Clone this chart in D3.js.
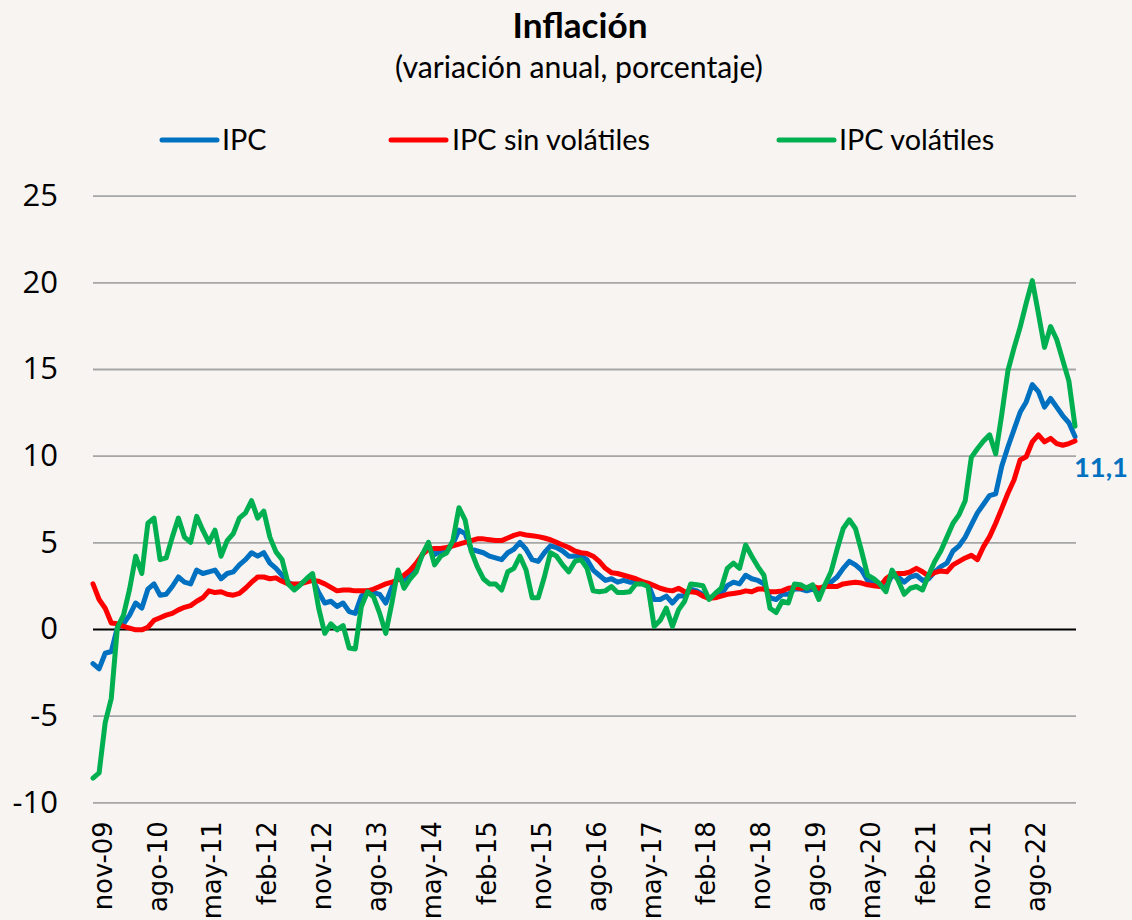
<!DOCTYPE html>
<html>
<head>
<meta charset="utf-8">
<script src="https://cdn.jsdelivr.net/npm/d3@7"></script>
<style>
  html, body { margin: 0; padding: 0; background: #f7f4f1; }
  svg { display: block; }
</style>
</head>
<body>
<svg id="chart" width="1132" height="920"></svg>
<script>
// ---------------- DATA ----------------
const monthAbbr = ["ene","feb","mar","abr","may","jun","jul","ago","sep","oct","nov","dic"];
const firstYear = 2009;
const firstMonthIndex = 9; // octubre 2009

const tickLabels = ["nov-09","ago-10","may-11","feb-12","nov-12","ago-13","may-14","feb-15","nov-15",
  "ago-16","may-17","feb-18","nov-18","ago-19","may-20","feb-21","nov-21","ago-22"];

const yTicks = [-10, -5, 0, 5, 10, 15, 20, 25];

const seriesNames = ["IPC", "IPC sin volátiles", "IPC volátiles"];

const ipc = [
  -2.0, -2.3, -1.4,
  -1.3, 0.1, 0.3, 0.8, 1.5, 1.2, 2.3, 2.6, 1.95, 2.0, 2.45, 3.0,
  2.7, 2.6, 3.4, 3.2, 3.3, 3.4, 2.9, 3.2, 3.3, 3.7, 4.0, 4.4,
  4.2, 4.4, 3.8, 3.5, 3.1, 2.7, 2.5, 2.6, 2.8, 2.9, 2.1, 1.5,
  1.6, 1.3, 1.5, 1.0, 0.9, 1.9, 2.2, 2.1, 2.0, 1.5, 2.4, 3.0,
  2.8, 3.2, 3.5, 4.3, 4.7, 4.3, 4.5, 4.5, 4.9, 5.7, 5.5, 4.6,
  4.5, 4.4, 4.2, 4.1, 4.0, 4.4, 4.6, 5.0, 4.6, 4.0, 3.9, 4.4,
  4.8, 4.7, 4.5, 4.2, 4.2, 4.2, 4.0, 3.4, 3.1, 2.8, 2.9, 2.7,
  2.8, 2.7, 2.7, 2.7, 2.6, 1.7, 1.7, 1.9, 1.5, 1.9, 1.9, 2.3,
  2.2, 2.0, 1.8, 1.9, 2.0, 2.5, 2.7, 2.6, 3.1, 2.9, 2.8, 2.6,
  1.8, 1.7, 2.0, 2.0, 2.3, 2.3, 2.2, 2.3, 2.1, 2.5, 2.7, 3.0,
  3.5, 3.9, 3.7, 3.4, 2.8, 2.6, 2.5, 2.4, 3.1, 3.0, 2.7, 3.0,
  3.1, 2.8, 2.9, 3.3, 3.6, 3.8, 4.5, 4.8, 5.3, 6.0, 6.7, 7.2,
  7.7, 7.8, 9.4, 10.5, 11.5, 12.5, 13.1, 14.1, 13.7, 12.8, 13.3, 12.8,
  12.3, 11.9, 11.1
];

const ipcSinVolatiles = [
  2.6, 1.7, 1.2, 0.35, 0.3, 0.15, 0.05, -0.05, -0.05, 0.1, 0.5, 0.65, 0.8, 0.9, 1.1,
  1.25, 1.35, 1.6, 1.8, 2.2, 2.1, 2.15, 2.0, 1.95, 2.05, 2.35, 2.7, 3.0, 3.0,
  2.9, 2.95, 2.75, 2.6, 2.6, 2.6, 2.7, 2.8, 2.75, 2.6, 2.4, 2.2, 2.25, 2.25, 2.2, 2.2, 2.2,
  2.3, 2.45, 2.6, 2.7, 2.85, 3.1, 3.4, 3.8, 4.3, 4.6, 4.65, 4.65, 4.7, 4.8, 4.9, 5.0, 5.1,
  5.2, 5.2, 5.15, 5.1, 5.1, 5.25, 5.4, 5.5, 5.42, 5.38, 5.33, 5.25, 5.15, 5.0, 4.85, 4.7,
  4.5, 4.4, 4.35, 4.2, 3.9, 3.5, 3.25, 3.2, 3.1, 3.0, 2.9, 2.75, 2.65,
  2.5, 2.35, 2.25, 2.2, 2.35, 2.15, 2.15, 2.1, 1.9, 1.77, 1.8, 1.9, 2.0, 2.05, 2.1, 2.2,
  2.15, 2.3, 2.3, 2.15, 2.15, 2.2, 2.35, 2.4, 2.35, 2.4, 2.45, 2.35, 2.45, 2.45,
  2.45, 2.6, 2.65, 2.7, 2.65, 2.55, 2.5, 2.45, 2.9, 3.15, 3.2, 3.2, 3.3,
  3.5, 3.3, 3.05, 3.25, 3.35, 3.3, 3.7, 3.9, 4.1, 4.25, 4.0, 4.75, 5.33, 6.1, 6.96, 7.83,
  8.6, 9.75, 9.94, 10.8, 11.2, 10.8, 11.0, 10.7, 10.6, 10.7, 10.85
];

const ipcVolatiles = [
  -8.6, -8.3, -5.4, -4.0, 0.1, 0.8, 2.3, 4.2, 3.2, 6.1, 6.4, 4.0, 4.1, 5.3, 6.4, 5.3, 5.0,
  6.5, 5.7, 5.0, 5.7, 4.2, 5.1, 5.5, 6.4, 6.7, 7.4, 6.4, 6.8, 5.3, 4.45, 4.0, 2.6,
  2.25, 2.55, 2.9, 3.2, 1.2, -0.25, 0.3, -0.05, 0.2, -1.1, -1.15, 1.3, 2.15, 1.85, 0.9,
  -0.25, 1.5, 3.4, 2.35, 2.9, 3.3, 4.3, 5.0, 3.7, 4.2, 4.4, 5.1, 7.0, 6.3, 4.5,
  3.6, 2.9, 2.6, 2.6, 2.25, 3.3, 3.5, 4.2, 3.4, 1.8, 1.8, 3.0, 4.4, 4.2, 3.7, 3.3, 3.9,
  4.0, 3.5, 2.2, 2.15, 2.2, 2.45, 2.1, 2.1, 2.15, 2.6, 2.6, 2.45,
  0.15, 0.5, 1.2, 0.15, 1.1, 1.6, 2.6, 2.55, 2.5, 1.7, 2.05, 2.35, 3.5, 3.8, 3.5, 4.85,
  4.2, 3.6, 3.1, 1.2, 0.95, 1.6, 1.5, 2.6, 2.55, 2.35, 2.55, 1.7, 2.55, 3.3,
  4.6, 5.8, 6.3, 5.8, 4.5, 3.1, 2.9, 2.6, 2.15, 3.4, 2.8, 2.0, 2.35, 2.45, 2.25, 3.1,
  3.9, 4.5, 5.3, 6.1, 6.6, 7.4, 9.9, 10.4, 10.85, 11.2, 10.1, 12.4, 14.9, 16.2, 17.4,
  18.8, 20.1, 18.2, 16.25, 17.45, 16.7, 15.5, 14.3, 11.7
];

// ------------- CATEGORIES (monthly, oct-09 ... mar-23) -------------
const categories = ipc.map((_, i) => {
  const m = firstMonthIndex + i;
  const yr = firstYear + Math.floor(m / 12);
  return monthAbbr[m % 12] + "-" + String(yr % 100).padStart(2, "0");
});

const series = [
  { name: seriesNames[0], values: ipc, color: "#0070C0" },
  { name: seriesNames[1], values: ipcSinVolatiles, color: "#FF0000" },
  { name: seriesNames[2], values: ipcVolatiles, color: "#00B050" }
];

// ---------------- LAYOUT ----------------
const svg = d3.select("#chart");
const plotLeft = 93, plotRight = 1076, plotTop = 195.7, plotBottom = 802.3;

const x = d3.scalePoint().domain(categories).range([plotLeft, 1075]).padding(0);
const y = d3.scaleLinear().domain([-10, 25]).range([plotBottom, plotTop]);

svg.append("rect").attr("width", 1132).attr("height", 920).attr("fill", "#f7f4f1");

function fitWidth(sel, target) {
  const w = sel.node().getComputedTextLength();
  const fs = parseFloat(sel.attr("font-size"));
  if (w > 0) sel.attr("font-size", (fs * target / w).toFixed(2));
}

// Title
const title = svg.append("text")
  .attr("x", 580).attr("y", 38).attr("text-anchor", "middle")
  .attr("font-family", "Lato, 'Open Sans', sans-serif").attr("font-weight", "bold")
  .attr("font-size", 32).attr("fill", "#000").text("Inflación");
fitWidth(title, 135);

const subtitle = svg.append("text")
  .attr("x", 579).attr("y", 78).attr("text-anchor", "middle")
  .attr("font-family", "Lato, 'Open Sans', sans-serif")
  .attr("font-size", 26).attr("fill", "#000").text("(variación anual, porcentaje)");
fitWidth(subtitle, 368);

// Y axis with gridlines
const yAxis = d3.axisLeft(y).tickValues(yTicks).tickSize(-(plotRight - plotLeft)).tickPadding(35)
  .tickFormat(d => String(d));
const gy = svg.append("g").attr("transform", `translate(${plotLeft},0)`).call(yAxis);
gy.select(".domain").remove();
gy.selectAll(".tick line")
  .attr("stroke", d => d === 0 ? "#000" : "#a6a6a6")
  .attr("stroke-width", d => d === 0 ? 2.2 : 1.8);
gy.selectAll(".tick text")
  .attr("font-family", "'Open Sans', sans-serif").attr("font-size", 31).attr("fill", "#000");

// X axis (rotated labels)
const xAxis = d3.axisBottom(x).tickValues(tickLabels).tickSize(0).tickFormat(d => d);
const gx = svg.append("g").attr("transform", `translate(0,${plotBottom})`).call(xAxis);
gx.select(".domain").remove();
const xt = gx.selectAll(".tick text")
  .attr("font-family", "'DejaVu Sans', Verdana, sans-serif").attr("font-size", 25.5).attr("fill", "#000")
  .attr("transform", "rotate(-90)")
  .attr("text-anchor", "end")
  .attr("x", -19).attr("y", 3).attr("dy", "0.35em");
// match label length to reference ("nov-09" ≈ 89 px long)
const firstLbl = xt.filter((d, i) => i === 0);
const lw = firstLbl.node().getComputedTextLength();
if (lw > 0) xt.attr("font-size", (25.5 * 89 / lw).toFixed(2));

// Lines
const line = d3.line()
  .x((d, i) => x(categories[i]))
  .y(d => y(d));

svg.append("g").selectAll("path").data(series).join("path")
  .attr("d", d => line(d.values))
  .attr("fill", "none")
  .attr("stroke", d => d.color)
  .attr("stroke-width", 5)
  .attr("stroke-linejoin", "round")
  .attr("stroke-linecap", "round");

// Last value label
const locale = d3.formatLocale({ decimal: ",", thousands: ".", grouping: [3], currency: ["$", ""] });
const fmt = locale.format(".1f");
const lastIdx = ipc.length - 1;
const lastLbl = svg.append("text")
  .attr("x", x(categories[lastIdx]) - 1)
  .attr("y", y(ipc[lastIdx]) + 40)
  .attr("font-family", "Lato, 'Open Sans', sans-serif").attr("font-weight", "bold")
  .attr("font-size", 27).attr("fill", "#0070C0")
  .text(fmt(ipc[lastIdx]));
fitWidth(lastLbl, 54);

// Legend
const legendX = [162, 391, 779];
const legendTextX = [222, 452, 839];
const legendY = 140;
const lg = svg.append("g").selectAll("g").data(series).join("g");
lg.append("line")
  .attr("x1", (d, i) => legendX[i]).attr("x2", (d, i) => legendX[i] + 55)
  .attr("y1", legendY).attr("y2", legendY)
  .attr("stroke", d => d.color).attr("stroke-width", 5).attr("stroke-linecap", "round");
const lt = lg.append("text")
  .attr("x", (d, i) => legendTextX[i]).attr("y", legendY).attr("dy", "0.36em")
  .attr("font-family", "Lato, 'Open Sans', sans-serif").attr("font-size", 26).attr("fill", "#000")
  .text(d => d.name);
const longest = lt.filter((d, i) => i === 1);
const w1 = longest.node().getComputedTextLength();
lt.attr("font-size", (26 * 198 / w1).toFixed(2));
</script>
</body>
</html>
